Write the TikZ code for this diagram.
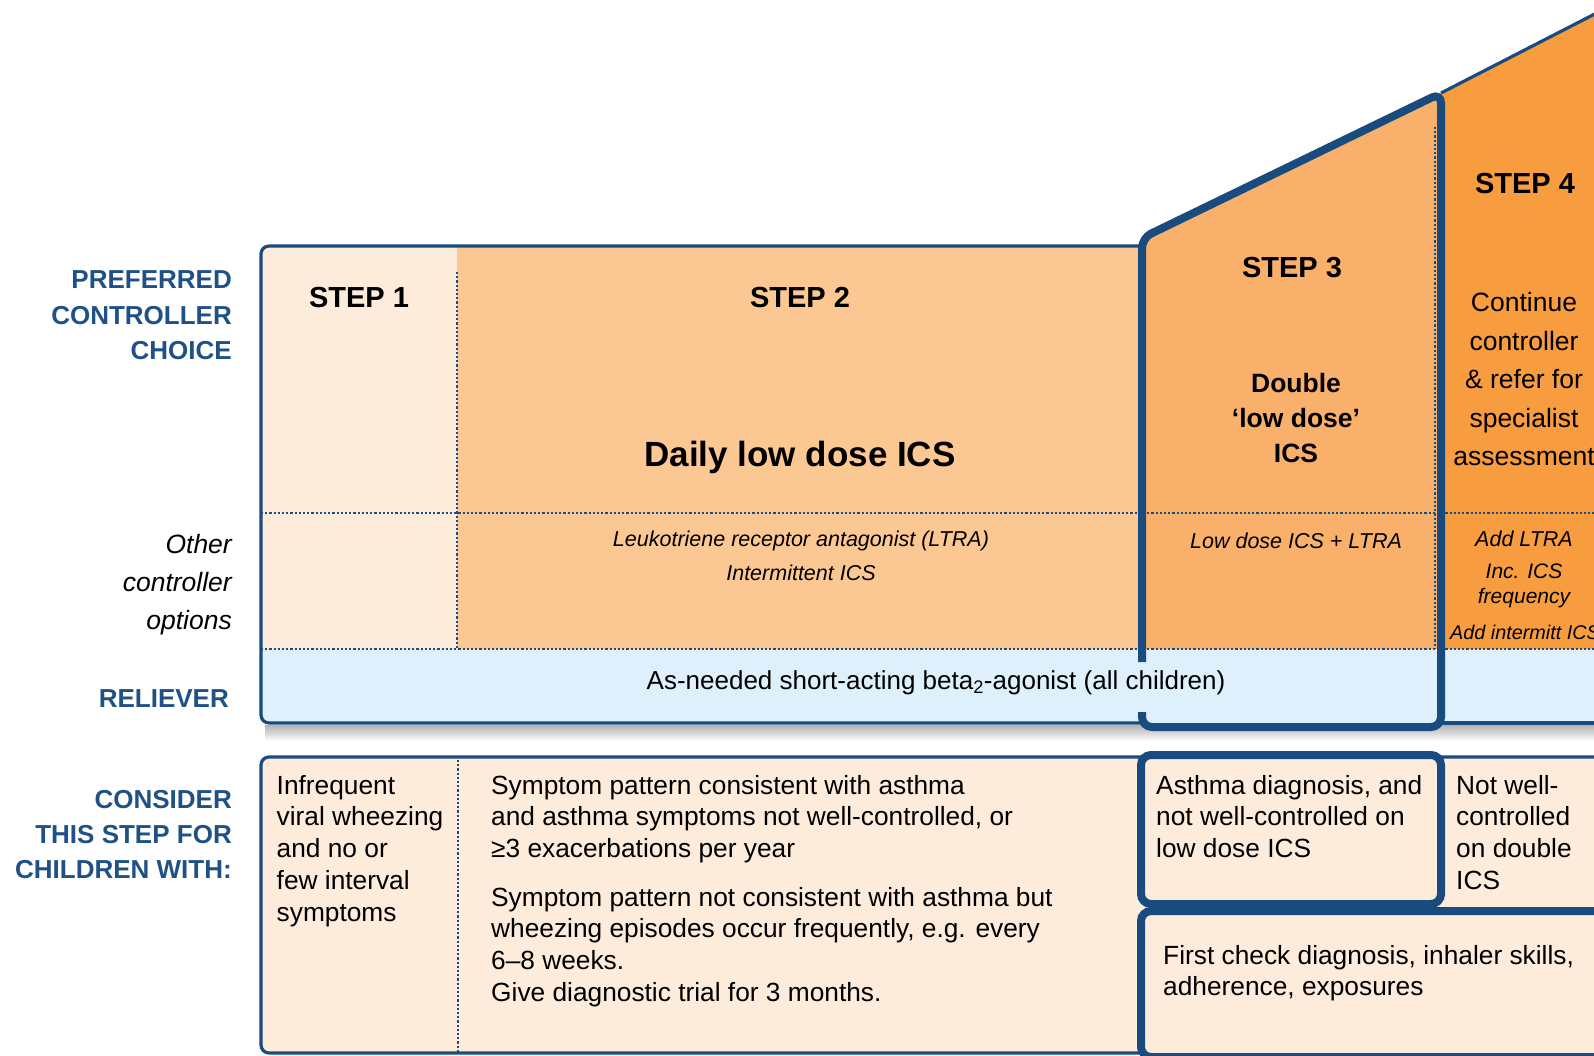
\documentclass[tikz,border=0pt]{standalone}
\usepackage{fontspec}
\setmainfont{Liberation Sans}
\definecolor{cEdge}{HTML}{1A4B7E}
\definecolor{cHead}{HTML}{1F5186}
\definecolor{cStepA}{HTML}{FDEBDB}
\definecolor{cStepB}{HTML}{FBC793}
\definecolor{cStepC}{HTML}{F9B06A}
\definecolor{cStepD}{HTML}{F89C40}
\definecolor{cRelief}{HTML}{DEF0FB}
\newcommand{\fsz}[2]{\fontsize{#1}{#2}\selectfont}

\begin{document}
\begin{tikzpicture}[x=1pt,y=-1pt,
    thin edge/.style={draw=cEdge,line width=3.2pt,rounded corners=8pt},
    thick edge/.style={draw=cEdge,line width=8pt,rounded corners=10pt},
    dotrule/.style={draw=cEdge,line width=2.6pt,dash pattern=on 2.2pt off 2pt},
    rowhead/.style={text=cHead,font=\fsz{26}{35.5}\bfseries,align=right,anchor=north east,inner sep=0pt},
    rowsub/.style={font=\fsz{26.5}{38}\itshape,align=right,anchor=north east,inner sep=0pt},
    stephead/.style={font=\fsz{29}{35}\bfseries,inner sep=0pt},
    opt/.style={font=\fsz{21.5}{34}\itshape,align=center,inner sep=0pt},
    cond/.style={font=\fsz{26.3}{31.7},align=left,anchor=north west,inner sep=0pt}]
  \useasboundingbox (0,0) rectangle (1594,1055);
  \clip (0,0) rectangle (1594,1055);

  % step fills of the upper panel
  \begin{scope}
    \clip[rounded corners=8pt] (261,246) rectangle (1700,723);
    \fill[cStepA] (261,246) rectangle (457,649);
    \fill[cStepB] (457,246) rectangle (1142,649);
    \fill[cRelief] (261,649) rectangle (1700,723);
  \end{scope}
  \fill[cStepC] (1142,238) -- (1441,93) -- (1441,649) -- (1142,649) -- cycle;
  \fill[cStepD] (1441,93) -- (1620,1) -- (1620,649) -- (1441,649) -- cycle;
  \shade[top color=black!30,bottom color=white] (265,725) rectangle (1620,741);

  % dotted separators
  \draw[dotrule] (457,272) -- (457,649);
  \draw[dotrule] (1435,127) -- (1435,649);
  \foreach \y in {513,649}
    \draw[dotrule] (261,\y) -- (1620,\y);

  % outlines
  \draw[thin edge] (1142,246) -- (261,246) -- (261,723) -- (1142,723);
  \draw[thin edge] (1441,723) -- (1620,723);
  \draw[thin edge] (1441,93) -- (1620,1);
  \draw[thick edge] (1142,662) -- (1142,238) -- (1441,93) -- (1441,727) -- (1142,727) -- (1142,712);

  % lower panel
  \draw[thin edge,fill=cStepA] (261,757) rectangle (1700,1053);
  \draw[dotrule] (458,760) -- (458,1053);
  \draw[thick edge,fill=cStepA] (1141,755) rectangle (1441,904);
  \draw[thick edge,fill=cStepA] (1141,911) rectangle (1700,1057);

  % row headings
  \node[rowhead] (pref) at (232,270.5) {PREFERRED\\CONTROLLER\\CHOICE};
  \node[rowsub] (other) at (232,534.5) {Other\\controller\\options};
  \node[rowhead,anchor=east] (reliever) at (229,699) {RELIEVER};
  \node[rowhead,font=\fsz{26}{35}\bfseries] (consider) at (232,790.5) {CONSIDER\\THIS STEP FOR\\CHILDREN WITH:};

  % steps
  \node[stephead] (s1) at (359,298) {STEP 1};
  \node[stephead] (s2) at (800,298) {STEP 2};
  \node[stephead] (s3) at (1292,268) {STEP 3};
  \node[stephead] (s4) at (1525,184) {STEP 4};
  \node[font=\fsz{35}{40}\bfseries,anchor=base,inner sep=0pt] (s2pref) at (800,466) {Daily low dose ICS};
  \node[font=\fsz{26.5}{35}\bfseries,align=center,anchor=north,inner sep=0pt] (s3pref) at (1296,373.5) {Double\\‘low dose’\\ICS};
  \node[font=\fsz{26.5}{38.5},align=center,anchor=north,inner sep=0pt] (s4pref) at (1524,292.5) {Continue\\controller\\\& refer for\\specialist\\assessment};

  % other options
  \node[opt,anchor=north] (s2opt) at (801,531) {Leukotriene receptor antagonist (LTRA)\\Intermittent ICS};
  \node[opt] (s3opt) at (1296,541) {Low dose ICS + LTRA};
  \node[opt] (s4opta) at (1524,539) {Add LTRA};
  \node[opt,font=\fsz{21}{25}\itshape] (s4optb) at (1524,585.5) {Inc. ICS\\frequency};
  \node[opt,font=\fsz{19.8}{24}\itshape,anchor=west] (s4optc) at (1450,632) {Add intermitt ICS};

  % reliever
  \node[font=\fsz{26}{30},anchor=base,inner sep=0pt] (relief) at (936,689) {As-needed short-acting beta\textsubscript{2}-agonist (all children)};

  % who should be on this step
  \node[cond] (c1) at (276.5,775) {Infrequent\\viral wheezing\\and no or\\few interval\\symptoms};
  \node[cond] (c2a) at (491,775) {Symptom pattern consistent with asthma\\and asthma symptoms not well-controlled, or\\≥3 exacerbations per year};
  \node[cond] (c2b) at (491,887) {Symptom pattern not consistent with asthma but\\wheezing episodes occur frequently, e.g. every\\6–8 weeks.\\Give diagnostic trial for 3 months.};
  \node[cond] (c3) at (1156,775) {Asthma diagnosis, and\\not well-controlled on\\low dose ICS};
  \node[cond] (c4) at (1456,775) {Not well-\\controlled\\on double\\ICS};
  \node[cond] (c5) at (1163,945) {First check diagnosis, inhaler skills,\\adherence, exposures};
\end{tikzpicture}
\end{document}
